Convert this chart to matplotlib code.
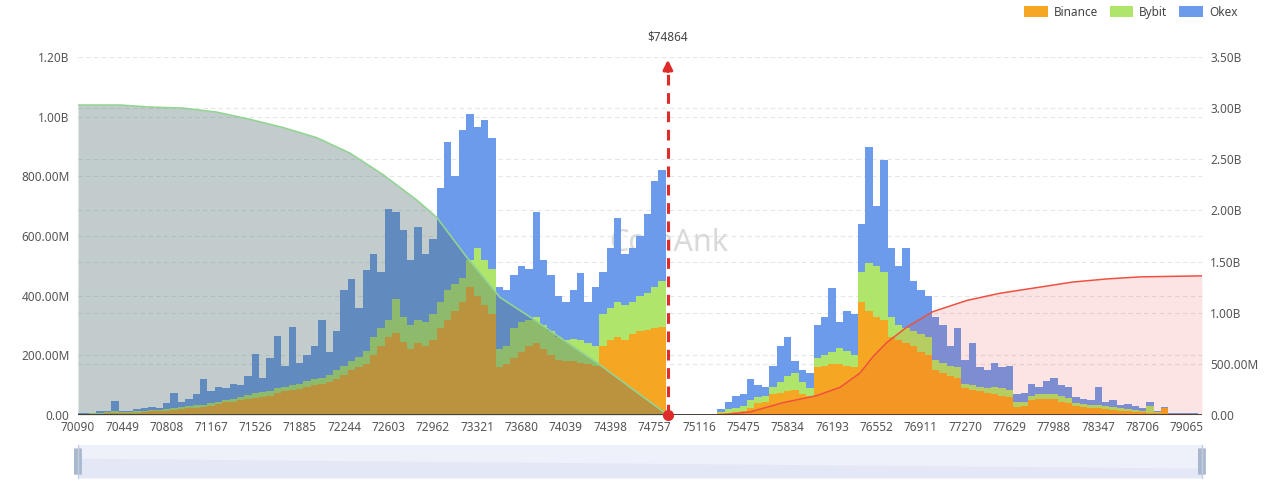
import numpy as np
import matplotlib.pyplot as plt
from matplotlib.patches import Patch, FancyBboxPatch

plt.rcParams['font.family'] = ['Noto Sans', 'DejaVu Sans']

# liquidation levels, one bar per price bin (values in millions)
price_start = 70090
price_step = 359 / 6
current_price = 74864

binance = [
    2, 2, 3, 4, 5, 6, 6, 6, 8, 10,
    12, 14, 15, 18, 20, 22, 24, 26, 30, 38,
    42, 45, 50, 55, 58, 60, 65, 75, 80, 85,
    88, 95, 100, 105, 110, 120, 135, 150, 160, 170,
    200, 230, 260, 275, 245, 220, 240, 230, 250, 290,
    320, 350, 380, 430, 400, 370, 340, 160, 170, 190,
    210, 230, 240, 220, 200, 185, 180, 180, 175, 170,
    165, 230, 250, 260, 250, 270, 280, 285, 290, 295,
    0, 0, 0, 0, 0, 0, 0, 5, 8, 10,
    14, 25, 40, 45, 70, 75, 80, 85, 70, 65,
    160, 165, 170, 170, 165, 160, 380, 350, 330, 320,
    260, 250, 240, 230, 210, 200, 150, 140, 130, 125,
    90, 85, 80, 75, 70, 65, 60, 28, 30, 50,
    55, 55, 52, 45, 40, 30, 28, 25, 22, 20,
    18, 14, 12, 10, 9, 8, 6, 22, 2, 2,
    2, 1,
]
bybit = [
    1, 2, 2, 4, 5, 6, 4, 3, 4, 4,
    4, 4, 5, 7, 8, 8, 8, 9, 10, 7,
    8, 10, 10, 13, 17, 18, 17, 15, 15, 15,
    17, 20, 20, 20, 25, 30, 30, 30, 35, 45,
    60, 60, 60, 115, 85, 80, 80, 80, 90, 90,
    100, 90, 80, 90, 160, 150, 150, 60, 60, 100,
    100, 90, 90, 80, 80, 75, 70, 75, 75, 70,
    65, 110, 110, 120, 120, 110, 120, 125, 140, 155,
    0, 0, 0, 0, 0, 0, 0, 5, 12, 15,
    16, 25, 20, 20, 25, 35, 50, 55, 40, 25,
    30, 35, 40, 55, 50, 40, 100, 160, 170, 160,
    70, 50, 50, 50, 60, 60, 35, 35, 35, 35,
    15, 15, 15, 15, 25, 25, 25, 14, 15, 15,
    15, 17, 18, 17, 18, 10, 10, 10, 13, 10,
    10, 8, 8, 8, 6, 22, 3, 3, 1, 2,
    1, 2,
]
okex = [
    2, 2, 3, 4, 5, 36, 4, 3, 8, 8,
    12, 7, 20, 50, 17, 25, 38, 85, 40, 50,
    40, 50, 40, 62, 130, 47, 108, 175, 70, 195,
    70, 85, 110, 195, 75, 130, 255, 275, 165, 270,
    280, 190, 370, 290, 290, 220, 310, 230, 250, 380,
    495, 360, 495, 490, 405, 470, 440, 210, 190, 180,
    190, 170, 350, 220, 190, 140, 130, 165, 225, 140,
    200, 140, 200, 280, 170, 180, 200, 265, 355, 370,
    0, 0, 0, 0, 0, 0, 0, 10, 25, 40,
    40, 70, 40, 30, 70, 120, 130, 40, 40, 50,
    110, 130, 215, 85, 135, 140, 160, 388, 200, 375,
    230, 200, 270, 170, 150, 140, 145, 125, 65, 130,
    80, 140, 65, 60, 80, 70, 80, 28, 30, 40,
    25, 43, 55, 38, 37, 20, 17, 15, 60, 15,
    22, 13, 18, 12, 10, 15, 3, 3, 2, 3,
    3, 2,
]

# cumulative liquidation curves (values in billions, right axis)
long_cum_prices = [70090, 70430, 70673, 70940, 71215, 71482, 71749, 72024, 72291,
                   72558, 72833, 72995, 73238, 73505, 73772, 74047, 74314, 74582,
                   74864]
long_cum_values = [3.03, 3.03, 3.01, 3.00, 2.96, 2.89, 2.81, 2.71, 2.56,
                   2.35, 2.10, 1.93, 1.54, 1.15, 0.94, 0.71, 0.49, 0.25,
                   0.0]
short_cum_prices = [74864, 75286, 75529, 75796, 76071, 76257, 76419, 76524, 76637,
                    76799, 77009, 77285, 77552, 77875, 78143, 78418, 78685, 79186]
short_cum_values = [0.0, 0.0, 0.03, 0.12, 0.19, 0.27, 0.41, 0.57, 0.71,
                    0.86, 1.01, 1.12, 1.19, 1.25, 1.30, 1.33, 1.35, 1.36]

tick_prices = [70090, 70449, 70808, 71167, 71526, 71885, 72244, 72603, 72962,
               73321, 73680, 74039, 74398, 74757, 75116, 75475, 75834, 76193,
               76552, 76911, 77270, 77629, 77988, 78347, 78706, 79065]
left_ticks = [0, 200, 400, 600, 800, 1000, 1200]
left_labels = ['0.00', '200.00M', '400.00M', '600.00M', '800.00M', '1.00B', '1.20B']
right_ticks = [0, 0.5, 1.0, 1.5, 2.0, 2.5, 3.0, 3.5]
right_labels = ['0.00', '500.00M', '1.00B', '1.50B', '2.00B', '2.50B', '3.00B', '3.50B']

c_binance = '#f5a623'
c_bybit = '#aee56a'
c_okex = '#6b9bea'
c_red = '#e02b2b'

prices = price_start + price_step * np.arange(len(binance))
b = np.array(binance, dtype=float)
y = np.array(bybit, dtype=float)
o = np.array(okex, dtype=float)

fig = plt.figure(figsize=(12.8, 4.84), dpi=100)
ax = fig.add_axes([0.0609, 0.1426, 0.8781, 0.7397])
ax2 = ax.twinx()

# grid lines for both axes, behind the bars
for v in left_ticks[1:]:
    ax.axhline(v, color='#e6e6e6', lw=0.8, ls=(0, (4, 3)), zorder=0)
for v in right_ticks[1:]:
    ax.axhline(v / 3.5 * 1200, color='#e6e6e6', lw=0.8, ls=(0, (4, 3)), zorder=0)

ax.text(74870, 576, 'CoinAnk', ha='center', va='center', fontsize=22,
        fontweight='bold', color='#d9d9d9', zorder=1)

ax.bar(prices, b, width=price_step, color=c_binance, lw=0, zorder=2)
ax.bar(prices, y, bottom=b, width=price_step, color=c_bybit, lw=0, zorder=2)
ax.bar(prices, o, bottom=b + y, width=price_step, color=c_okex, lw=0, zorder=2)

ax.set_xlim(70090, 79186)
ax.set_ylim(0, 1200)
ax2.set_ylim(0, 3.5)

ax2.fill_between(long_cum_prices, long_cum_values, color='#506e6e', alpha=0.35, lw=0)
ax2.plot(long_cum_prices, long_cum_values, color='#93d393', lw=1.2)
ax2.fill_between(short_cum_prices, short_cum_values, color='#f03030', alpha=0.13, lw=0)
ax2.plot(short_cum_prices, short_cum_values, color='#ef5040', lw=1.1)

# current price marker
ax2.plot([current_price, current_price], [0, 3.38], color=c_red, lw=2.2,
         dashes=(3.5, 2.5), zorder=5)
ax2.annotate('', xy=(current_price, 3.5), xytext=(current_price, 3.33),
             arrowprops=dict(arrowstyle='-|>', color=c_red, lw=2.2,
                             mutation_scale=14), zorder=5)
ax2.plot([current_price], [0], 'o', color=c_red, ms=7, clip_on=False, zorder=6)
ax2.annotate(f'${current_price}', xy=(current_price, 3.5), xytext=(0, 10),
             textcoords='offset points', ha='center', va='bottom',
             fontsize=8.5, color='#444444')

ax.set_xticks(tick_prices)
ax.set_xticklabels([str(t) for t in tick_prices])
ax.set_yticks(left_ticks)
ax.set_yticklabels(left_labels)
ax2.set_yticks(right_ticks)
ax2.set_yticklabels(right_labels)
for a in (ax, ax2):
    a.tick_params(axis='both', length=0, labelsize=8.5, colors='#555555', pad=6)
    for s in ('top', 'left', 'right', 'bottom'):
        a.spines[s].set_visible(False)
ax.tick_params(axis='x', pad=4)
ax2.axhline(0, color='#333333', lw=1.2, zorder=4)

# legend
handles = [Patch(facecolor=c_binance, label='Binance'),
           Patch(facecolor=c_bybit, label='Bybit'),
           Patch(facecolor=c_okex, label='Okex')]
fig.legend(handles=handles, loc='upper right', bbox_to_anchor=(0.975, 1.01),
           ncol=3, frameon=False, fontsize=8.5, handlelength=2.0,
           handleheight=1.0, columnspacing=1.0, handletextpad=0.5,
           labelcolor='#444444')

# data zoom slider
axs = fig.add_axes([0.0609, 0.0124, 0.8781, 0.068])
axs.set_xlim(0, 1)
axs.set_ylim(0, 1)
axs.axis('off')
axs.add_patch(plt.Rectangle((0, 0), 1, 1, color='#eef0fa', lw=0))
axs.fill_between([0, 0.5, 1], [0.6, 0.45, 0.3], color='#e4e8f6', lw=0)
for hx in (0, 1):
    axs.plot([hx, hx], [0, 1], color='#c5cde0', lw=1, clip_on=False)
    axs.add_patch(FancyBboxPatch((hx - 0.0035, 0.1), 0.007, 0.8,
                                 boxstyle='round,pad=0,rounding_size=0.003',
                                 color='#a9b8cf', lw=0, clip_on=False))

fig.savefig('out.png', dpi=100)
